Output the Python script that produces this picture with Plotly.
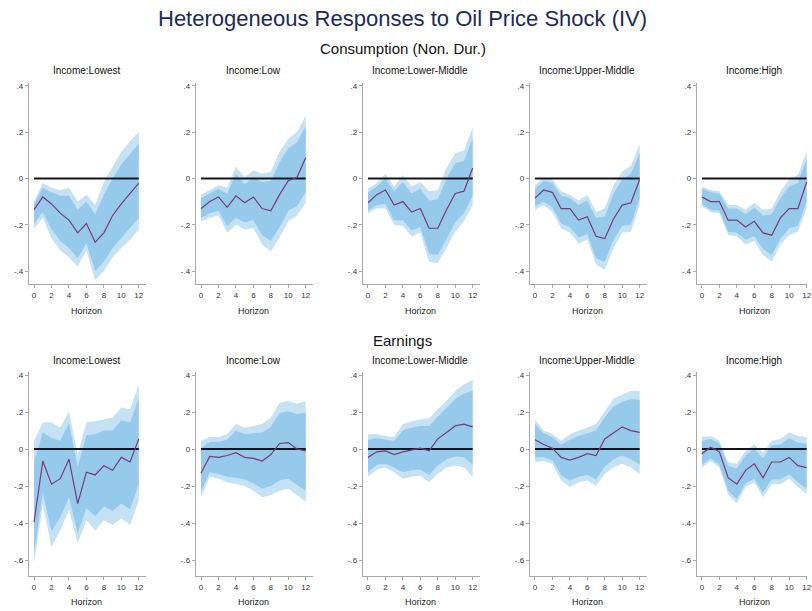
import plotly.graph_objects as go

# ---------------------------------------------------------------------------
# Impulse responses by income group, horizons 0..12
# irf = point estimate, hi90/lo90 = outer band, hi68/lo68 = inner band
# ---------------------------------------------------------------------------
horizons = list(range(13))
groups = ["Income:Lowest", "Income:Low", "Income:Lower-Middle", "Income:Upper-Middle", "Income:High"]

# Consumption (non-durables)
cons_lowest_irf = [-0.135, -0.08, -0.11, -0.15, -0.18, -0.235, -0.195, -0.275, -0.235, -0.16, -0.11, -0.065, -0.02]
cons_lowest_hi90 = [-0.1, -0.02, -0.04, -0.05, -0.04, -0.1, -0.07, -0.115, -0.015, 0.05, 0.115, 0.16, 0.2]
cons_lowest_lo90 = [-0.215, -0.17, -0.26, -0.31, -0.34, -0.38, -0.31, -0.44, -0.4, -0.34, -0.3, -0.265, -0.22]
cons_lowest_hi68 = [-0.11, -0.04, -0.06, -0.075, -0.075, -0.135, -0.1, -0.155, -0.07, 0.0, 0.06, 0.105, 0.15]
cons_lowest_lo68 = [-0.195, -0.145, -0.22, -0.27, -0.3, -0.345, -0.28, -0.4, -0.36, -0.3, -0.255, -0.215, -0.17]

cons_low_irf = [-0.13, -0.1, -0.08, -0.125, -0.075, -0.105, -0.08, -0.13, -0.14, -0.07, -0.01, 0.005, 0.09]
cons_low_hi90 = [-0.07, -0.05, -0.03, -0.04, 0.05, 0.005, 0.035, 0.02, 0.03, 0.115, 0.17, 0.2, 0.27]
cons_low_lo90 = [-0.185, -0.17, -0.16, -0.235, -0.2, -0.22, -0.215, -0.285, -0.315, -0.255, -0.185, -0.16, -0.105]
cons_low_hi68 = [-0.085, -0.065, -0.045, -0.065, 0.02, -0.025, 0.005, -0.015, -0.01, 0.07, 0.13, 0.155, 0.225]
cons_low_lo68 = [-0.17, -0.15, -0.14, -0.205, -0.17, -0.19, -0.18, -0.245, -0.27, -0.21, -0.14, -0.12, -0.06]

cons_lowmid_irf = [-0.105, -0.07, -0.05, -0.115, -0.1, -0.145, -0.13, -0.215, -0.215, -0.135, -0.065, -0.055, 0.045]
cons_lowmid_hi90 = [-0.045, -0.02, 0.02, -0.035, 0.015, -0.035, -0.015, -0.055, -0.05, 0.045, 0.11, 0.12, 0.22]
cons_lowmid_lo90 = [-0.15, -0.13, -0.13, -0.2, -0.205, -0.25, -0.235, -0.36, -0.365, -0.3, -0.23, -0.185, -0.115]
cons_lowmid_hi68 = [-0.06, -0.035, 0.0, -0.055, -0.015, -0.065, -0.045, -0.095, -0.09, 0.0, 0.065, 0.075, 0.175]
cons_lowmid_lo68 = [-0.14, -0.115, -0.11, -0.18, -0.18, -0.225, -0.21, -0.325, -0.33, -0.26, -0.19, -0.15, -0.075]

cons_upmid_irf = [-0.085, -0.05, -0.06, -0.13, -0.13, -0.18, -0.165, -0.25, -0.26, -0.175, -0.115, -0.105, -0.005]
cons_upmid_hi90 = [-0.03, 0.005, -0.005, -0.055, -0.07, -0.095, -0.07, -0.145, -0.13, -0.03, 0.03, 0.055, 0.15]
cons_upmid_lo90 = [-0.135, -0.115, -0.145, -0.215, -0.235, -0.28, -0.265, -0.37, -0.395, -0.3, -0.235, -0.23, -0.115]
cons_upmid_hi68 = [-0.045, -0.01, -0.02, -0.075, -0.085, -0.115, -0.095, -0.17, -0.165, -0.065, -0.005, 0.02, 0.11]
cons_upmid_lo68 = [-0.12, -0.1, -0.125, -0.195, -0.21, -0.255, -0.24, -0.345, -0.36, -0.265, -0.205, -0.2, -0.085]

cons_high_irf = [-0.08, -0.1, -0.1, -0.18, -0.18, -0.21, -0.185, -0.235, -0.245, -0.17, -0.13, -0.13, -0.015]
cons_high_hi90 = [-0.035, -0.05, -0.055, -0.115, -0.115, -0.135, -0.105, -0.135, -0.13, -0.055, -0.005, 0.015, 0.115]
cons_high_lo90 = [-0.12, -0.145, -0.15, -0.245, -0.25, -0.285, -0.27, -0.33, -0.36, -0.285, -0.245, -0.23, -0.13]
cons_high_hi68 = [-0.045, -0.06, -0.065, -0.13, -0.13, -0.155, -0.125, -0.16, -0.155, -0.085, -0.035, -0.02, 0.085]
cons_high_lo68 = [-0.11, -0.135, -0.14, -0.23, -0.235, -0.265, -0.25, -0.305, -0.33, -0.26, -0.215, -0.205, -0.1]

# Earnings
earn_lowest_irf = [-0.395, -0.065, -0.19, -0.16, -0.055, -0.295, -0.125, -0.14, -0.09, -0.115, -0.045, -0.07, 0.055]
earn_lowest_hi90 = [0.045, 0.145, 0.145, 0.115, 0.205, -0.03, 0.145, 0.15, 0.16, 0.17, 0.225, 0.215, 0.35]
earn_lowest_lo90 = [-0.62, -0.3, -0.53, -0.44, -0.33, -0.51, -0.385, -0.44, -0.385, -0.41, -0.375, -0.41, -0.28]
earn_lowest_hi68 = [-0.07, 0.09, 0.06, 0.045, 0.14, -0.095, 0.075, 0.08, 0.1, 0.1, 0.155, 0.145, 0.275]
earn_lowest_lo68 = [-0.565, -0.24, -0.445, -0.37, -0.26, -0.455, -0.32, -0.365, -0.31, -0.335, -0.295, -0.325, -0.19]

earn_low_irf = [-0.13, -0.04, -0.045, -0.035, -0.02, -0.045, -0.05, -0.065, -0.03, 0.03, 0.035, 0.0, -0.01]
earn_low_hi90 = [0.045, 0.065, 0.065, 0.08, 0.135, 0.115, 0.125, 0.135, 0.17, 0.25, 0.26, 0.245, 0.26]
earn_low_lo90 = [-0.26, -0.15, -0.16, -0.18, -0.19, -0.2, -0.225, -0.26, -0.25, -0.225, -0.215, -0.25, -0.285]
earn_low_hi68 = [0.005, 0.04, 0.04, 0.05, 0.1, 0.08, 0.085, 0.09, 0.12, 0.195, 0.205, 0.19, 0.195]
earn_low_lo68 = [-0.23, -0.125, -0.135, -0.15, -0.155, -0.165, -0.185, -0.215, -0.2, -0.17, -0.16, -0.195, -0.225]

earn_lowmid_irf = [-0.045, -0.015, -0.01, -0.03, -0.015, -0.003, 0.005, -0.01, 0.055, 0.09, 0.125, 0.135, 0.12]
earn_lowmid_hi90 = [0.08, 0.08, 0.07, 0.065, 0.135, 0.15, 0.16, 0.165, 0.215, 0.26, 0.315, 0.35, 0.375]
earn_lowmid_lo90 = [-0.15, -0.11, -0.1, -0.125, -0.16, -0.15, -0.145, -0.18, -0.135, -0.1, -0.09, -0.1, -0.15]
earn_lowmid_hi68 = [0.05, 0.06, 0.05, 0.045, 0.1, 0.115, 0.125, 0.125, 0.175, 0.22, 0.27, 0.3, 0.315]
earn_lowmid_lo68 = [-0.125, -0.085, -0.08, -0.1, -0.125, -0.115, -0.11, -0.14, -0.09, -0.055, -0.04, -0.045, -0.085]

earn_upmid_irf = [0.05, 0.025, 0.005, -0.045, -0.06, -0.045, -0.025, -0.035, 0.055, 0.09, 0.12, 0.1, 0.09]
earn_upmid_hi90 = [0.16, 0.1, 0.08, 0.045, 0.08, 0.1, 0.115, 0.135, 0.205, 0.27, 0.295, 0.315, 0.315]
earn_upmid_lo90 = [-0.07, -0.065, -0.08, -0.17, -0.205, -0.18, -0.17, -0.2, -0.135, -0.1, -0.08, -0.1, -0.135]
earn_upmid_hi68 = [0.135, 0.085, 0.065, 0.025, 0.05, 0.07, 0.085, 0.1, 0.17, 0.23, 0.255, 0.27, 0.265]
earn_upmid_lo68 = [-0.045, -0.045, -0.06, -0.14, -0.17, -0.15, -0.14, -0.165, -0.095, -0.055, -0.035, -0.055, -0.085]

earn_high_irf = [-0.025, 0.01, -0.015, -0.155, -0.19, -0.115, -0.08, -0.155, -0.07, -0.07, -0.045, -0.09, -0.1]
earn_high_hi90 = [0.065, 0.07, 0.045, -0.07, -0.08, -0.01, 0.025, -0.02, 0.045, 0.055, 0.09, 0.07, 0.065]
earn_high_lo90 = [-0.1, -0.065, -0.1, -0.245, -0.295, -0.205, -0.18, -0.26, -0.19, -0.19, -0.16, -0.205, -0.245]
earn_high_hi68 = [0.045, 0.055, 0.03, -0.09, -0.105, -0.035, 0.0, -0.05, 0.02, 0.025, 0.06, 0.035, 0.03]
earn_high_lo68 = [-0.085, -0.05, -0.085, -0.225, -0.27, -0.185, -0.16, -0.235, -0.165, -0.165, -0.135, -0.18, -0.215]

x_ticks = [0, 2, 4, 6, 8, 10, 12]
cons_y_ticks = [0.4, 0.2, 0.0, -0.2, -0.4]
cons_y_labels = [".4", ".2", "0", "-.2", "-.4"]
earn_y_ticks = [0.4, 0.2, 0.0, -0.2, -0.4, -0.6]
earn_y_labels = [".4", ".2", "0", "-.2", "-.4", "-.6"]

cons_panels = [
    (cons_lowest_irf, cons_lowest_hi90, cons_lowest_lo90, cons_lowest_hi68, cons_lowest_lo68),
    (cons_low_irf, cons_low_hi90, cons_low_lo90, cons_low_hi68, cons_low_lo68),
    (cons_lowmid_irf, cons_lowmid_hi90, cons_lowmid_lo90, cons_lowmid_hi68, cons_lowmid_lo68),
    (cons_upmid_irf, cons_upmid_hi90, cons_upmid_lo90, cons_upmid_hi68, cons_upmid_lo68),
    (cons_high_irf, cons_high_hi90, cons_high_lo90, cons_high_hi68, cons_high_lo68),
]
earn_panels = [
    (earn_lowest_irf, earn_lowest_hi90, earn_lowest_lo90, earn_lowest_hi68, earn_lowest_lo68),
    (earn_low_irf, earn_low_hi90, earn_low_lo90, earn_low_hi68, earn_low_lo68),
    (earn_lowmid_irf, earn_lowmid_hi90, earn_lowmid_lo90, earn_lowmid_hi68, earn_lowmid_lo68),
    (earn_upmid_irf, earn_upmid_hi90, earn_upmid_lo90, earn_upmid_hi68, earn_upmid_lo68),
    (earn_high_irf, earn_high_hi90, earn_high_lo90, earn_high_hi68, earn_high_lo68),
]

# ---------------------------------------------------------------------------
# Page geometry (pixels)
# ---------------------------------------------------------------------------
W, H = 812, 611
FONT = "Liberation Sans, Arial, sans-serif"
OUTER_FILL = "rgb(197,226,244)"
INNER_FILL = "rgb(150,202,236)"
LINE_COLOR = "#7a3a78"
ZERO_COLOR = "#15151f"
AXIS_COLOR = "#a8a8a8"
TICK_FONT = dict(family=FONT, size=8, color="#333333")

col_left = [29, 197, 365, 533, 701]
px_per_unit = 8.78
x_lo = -0.6
col_width = (12.85 - x_lo) * px_per_unit

rows = [
    # (panels, y range, top px, bottom px, ticks, labels, subtitle px, horizon px)
    (cons_panels, [-0.456, 0.41], 81.7, 283.0, cons_y_ticks, cons_y_labels, 69, 310),
    (earn_panels, [-0.687, 0.414], 371.7, 576.0, earn_y_ticks, earn_y_labels, 360, 602),
]


def px_x(p):
    return p / W


def px_y(p):
    return 1 - p / H


fig = go.Figure()
layout = dict(
    width=W,
    height=H,
    margin=dict(l=0, r=0, t=0, b=0),
    paper_bgcolor="white",
    plot_bgcolor="white",
    showlegend=False,
    font=dict(family=FONT, color="#222222"),
)
annotations = []

k = 0
for r, (panels, yrange, top, bottom, yt, yl, sub_px, hor_px) in enumerate(rows):
    for c, (irf, hi90, lo90, hi68, lo68) in enumerate(panels):
        k += 1
        xa = "x" if k == 1 else f"x{k}"
        ya = "y" if k == 1 else f"y{k}"
        left = col_left[c]
        right = min(left + col_width, W)
        x_hi = x_lo + (right - left) / px_per_unit

        band_x = horizons + horizons[::-1]
        fig.add_trace(go.Scatter(
            x=band_x, y=hi90 + lo90[::-1], fill="toself", fillcolor=OUTER_FILL,
            line=dict(width=0), mode="lines", hoverinfo="skip", xaxis=xa, yaxis=ya))
        fig.add_trace(go.Scatter(
            x=band_x, y=hi68 + lo68[::-1], fill="toself", fillcolor=INNER_FILL,
            line=dict(width=0), mode="lines", hoverinfo="skip", xaxis=xa, yaxis=ya))
        fig.add_trace(go.Scatter(
            x=[horizons[0], horizons[-1]], y=[0, 0], mode="lines",
            line=dict(color=ZERO_COLOR, width=2), xaxis=xa, yaxis=ya))
        fig.add_trace(go.Scatter(
            x=horizons, y=irf, mode="lines",
            line=dict(color=LINE_COLOR, width=1.2), xaxis=xa, yaxis=ya))

        key_x = "xaxis" if k == 1 else f"xaxis{k}"
        key_y = "yaxis" if k == 1 else f"yaxis{k}"
        layout[key_x] = dict(
            domain=[px_x(left), px_x(right)], anchor=ya, range=[x_lo, x_hi],
            tickmode="array", tickvals=x_ticks, ticktext=[str(v) for v in x_ticks],
            showgrid=False, zeroline=False, showline=True, linecolor=AXIS_COLOR, linewidth=1,
            ticks="outside", ticklen=3, tickcolor=AXIS_COLOR, tickfont=TICK_FONT,
            ticklabeloverflow="allow", fixedrange=True)
        layout[key_y] = dict(
            domain=[px_y(bottom), px_y(top)], anchor=xa, range=yrange,
            tickmode="array", tickvals=yt, ticktext=yl,
            showgrid=False, zeroline=False, showline=True, linecolor=AXIS_COLOR, linewidth=1,
            ticks="outside", ticklen=3, tickcolor=AXIS_COLOR, tickfont=TICK_FONT,
            fixedrange=True)

        center = left + (0 - x_lo + 6) * px_per_unit
        annotations.append(dict(
            text=groups[c], x=px_x(center), y=px_y(sub_px), xref="paper", yref="paper",
            xanchor="center", yanchor="middle", showarrow=False,
            font=dict(family=FONT, size=10, color="#111111")))
        annotations.append(dict(
            text="Horizon", x=px_x(center), y=px_y(hor_px), xref="paper", yref="paper",
            xanchor="center", yanchor="middle", showarrow=False,
            font=dict(family=FONT, size=9, color="#222222")))

annotations += [
    dict(text="Heterogeneous Responses to Oil Price Shock (IV)", x=px_x(405), y=px_y(17),
         xref="paper", yref="paper", xanchor="center", yanchor="middle", showarrow=False,
         font=dict(family=FONT, size=22, color="#1c2b5a")),
    dict(text="Consumption (Non. Dur.)", x=px_x(405), y=px_y(47),
         xref="paper", yref="paper", xanchor="center", yanchor="middle", showarrow=False,
         font=dict(family=FONT, size=15, color="#111111")),
    dict(text="Earnings", x=px_x(405), y=px_y(340),
         xref="paper", yref="paper", xanchor="center", yanchor="middle", showarrow=False,
         font=dict(family=FONT, size=15, color="#111111")),
]
layout["annotations"] = annotations
fig.update_layout(**layout)

fig.write_html("out.html", config={"displayModeBar": False})
